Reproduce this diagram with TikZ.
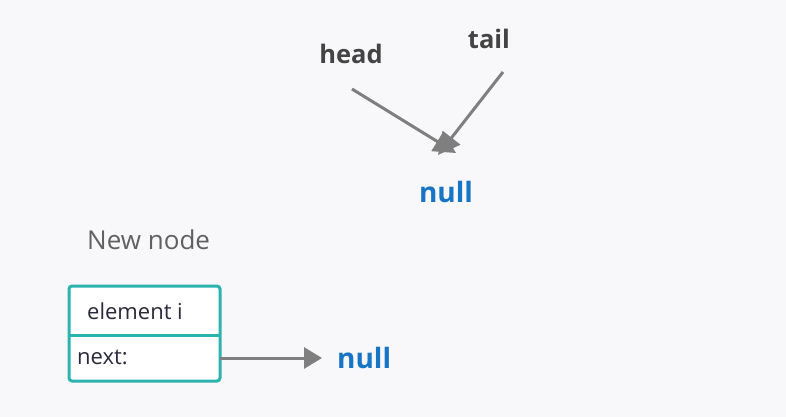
\documentclass[tikz,border=0pt]{standalone}
\usepackage{fontspec}
\setmainfont{Open Sans}
\usetikzlibrary{arrows.meta}
\definecolor{bg}{HTML}{F8F8FA}
\definecolor{teal}{HTML}{2BB3AF}
\definecolor{nullblue}{HTML}{1874C4}
\definecolor{arrowgray}{HTML}{7F7F7F}
\definecolor{labelgray}{HTML}{444444}
\definecolor{txtdark}{HTML}{2A2A3A}
\tikzset{
  conn/.style={draw=arrowgray, line width=3pt, -{Triangle[length=18pt,width=21pt]}},
  bigconn/.style={conn, -{Triangle[length=22pt,width=22pt]}},
  nulltxt/.style={text=nullblue, font=\fontsize{28}{30}\selectfont\bfseries, inner sep=0pt},
  ptrlabel/.style={text=labelgray, font=\fontsize{25.5}{28}\selectfont\bfseries, inner sep=0pt},
  celltxt/.style={text=txtdark, font=\fontsize{22}{25}\selectfont, inner sep=0pt},
}
\begin{document}
\begin{tikzpicture}[x=1pt,y=-1pt]
\fill[bg] (0,0) rectangle (786,417);
\useasboundingbox (0,0) rectangle (786,417);
\node[ptrlabel] (head) at (351,54) {head};
\node[ptrlabel] (tail) at (489,39) {tail};
\node[nulltxt] (null1) at (446,192) {null};
\coordinate (hs) at (352,89);
\coordinate (ts) at (503,72);
\coordinate (he) at (456,153);
\coordinate (te) at (438,155);
\draw[bigconn] (hs) -- (he);
\draw[bigconn] (ts) -- (te);
\node[text=labelgray!85, font=\fontsize{26}{29}\selectfont, inner sep=0pt, anchor=west] (newnode) at (87,240) {New node};
\draw[teal, line width=3pt, rounded corners=3pt, fill=white] (69,286) rectangle (220,381);
\draw[teal, line width=3pt] (69,335) -- (220,335);
\node[celltxt, anchor=west] (elem) at (87,311) {element i};
\node[celltxt, anchor=west] (next) at (77,357) {next:};
\coordinate (ps) at (220,358);
\coordinate (pe) at (322,358);
\node[nulltxt, anchor=west] (null2) at (337,358) {null};
\draw[conn] (ps) -- (pe);
\end{tikzpicture}
\end{document}
